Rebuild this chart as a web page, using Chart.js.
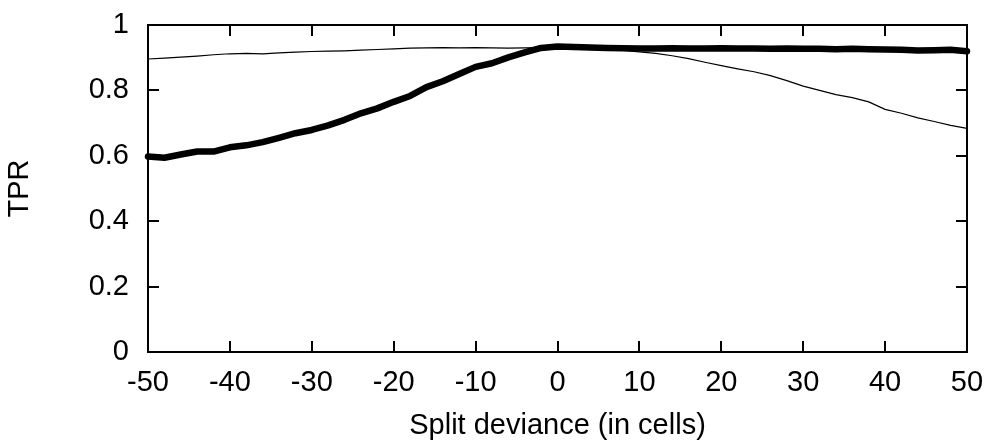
<!DOCTYPE html>
<html>
<head>
<meta charset="utf-8">
<script src="https://cdn.jsdelivr.net/npm/chart.js@4"></script>
<style>
html,body{margin:0;padding:0;background:#fff;}
#wrap{width:991px;height:443px;}
</style>
</head>
<body>
<div id="wrap"><canvas id="c" width="991" height="443"></canvas></div>
<script>
const deviance = [-50,-48,-46,-44,-42,-40,-38,-36,-34,-32,-30,-28,-26,-24,-22,-20,-18,-16,-14,-12,-10,-8,-6,-4,-2,0,2,4,6,8,10,12,14,16,18,20,22,24,26,28,30,32,34,36,38,40,42,44,46,48,50];
const tprThick = [0.598,0.594,0.604,0.613,0.613,0.626,0.632,0.642,0.655,0.669,0.679,0.693,0.710,0.730,0.745,0.765,0.783,0.810,0.828,0.850,0.872,0.883,0.901,0.916,0.930,0.934,0.933,0.931,0.930,0.929,0.928,0.928,0.929,0.928,0.928,0.929,0.928,0.928,0.927,0.928,0.927,0.927,0.926,0.927,0.926,0.925,0.924,0.922,0.923,0.924,0.920];
const tprThin = [0.896,0.899,0.902,0.905,0.909,0.912,0.913,0.912,0.915,0.917,0.919,0.920,0.921,0.923,0.925,0.927,0.929,0.930,0.931,0.930,0.931,0.930,0.929,0.930,0.931,0.932,0.930,0.928,0.924,0.922,0.918,0.913,0.906,0.897,0.886,0.876,0.866,0.857,0.845,0.830,0.813,0.800,0.787,0.778,0.765,0.742,0.730,0.716,0.705,0.693,0.684];
const xTicks = [-50,-40,-30,-20,-10,0,10,20,30,40,50];
const yTicks = [0,0.2,0.4,0.6,0.8,1];

const FONT = "'Liberation Sans', Arial, Helvetica, sans-serif";

const framePlugin = {
  id: 'frame',
  afterDatasetsDraw(chart) {
    const {ctx, chartArea: a, scales: {x, y}} = chart;
    const tl = 11;
    ctx.save();
    ctx.strokeStyle = '#000';
    ctx.lineWidth = 2;
    ctx.beginPath();
    ctx.rect(a.left, a.top, a.right - a.left, a.bottom - a.top);
    for (const v of xTicks) {
      const px = Math.round(x.getPixelForValue(v));
      ctx.moveTo(px, a.bottom); ctx.lineTo(px, a.bottom - tl);
      ctx.moveTo(px, a.top); ctx.lineTo(px, a.top + tl);
    }
    for (const v of yTicks) {
      const py = Math.round(y.getPixelForValue(v));
      ctx.moveTo(a.left, py); ctx.lineTo(a.left + tl, py);
      ctx.moveTo(a.right, py); ctx.lineTo(a.right - tl, py);
    }
    ctx.stroke();
    ctx.restore();
  }
};

new Chart(document.getElementById('c'), {
  type: 'line',
  data: {
    datasets: [
      {
        label: 'thick',
        data: deviance.map((d, i) => ({x: d, y: tprThick[i]})),
        borderColor: '#000',
        borderWidth: 6.5,
        pointRadius: 0,
        tension: 0,
        borderCapStyle: 'round',
        borderJoinStyle: 'round'
      },
      {
        label: 'thin',
        data: deviance.map((d, i) => ({x: d, y: tprThin[i]})),
        borderColor: '#000',
        borderWidth: 1.2,
        pointRadius: 0,
        tension: 0
      }
    ]
  },
  options: {
    responsive: false,
    animation: false,
    devicePixelRatio: 1,
    layout: {padding: {top: 25, right: 24, left: 0, bottom: 0}},
    plugins: {legend: {display: false}, tooltip: {enabled: false}},
    clip: false,
    scales: {
      x: {
        type: 'linear',
        min: -50, max: 50,
        afterBuildTicks: s => { s.ticks = xTicks.map(v => ({value: v})); },
        afterFit: s => { s.height = 91; s.paddingLeft = 0; s.paddingRight = 0; },
        grid: {display: false, drawTicks: false},
        border: {display: false},
        ticks: {color: '#000', font: {family: FONT, size: 29}, padding: 14, maxRotation: 0, autoSkip: false},
        title: {display: true, text: 'Split deviance (in cells)', color: '#000', font: {family: FONT, size: 29}, padding: {top: 0, bottom: 0}}
      },
      y: {
        type: 'linear',
        min: 0, max: 1,
        afterBuildTicks: s => { s.ticks = yTicks.map(v => ({value: v})); },
        afterFit: s => { s.width = 148; s.paddingTop = 0; s.paddingBottom = 0; },
        grid: {display: false, drawTicks: false},
        border: {display: false},
        ticks: {color: '#000', font: {family: FONT, size: 29}, padding: 19, callback: v => String(v)},
        title: {display: true, text: 'TPR', color: '#000', font: {family: FONT, size: 29}, padding: {top: 3, bottom: 0}}
      }
    }
  },
  plugins: [framePlugin]
});
</script>
</body>
</html>
